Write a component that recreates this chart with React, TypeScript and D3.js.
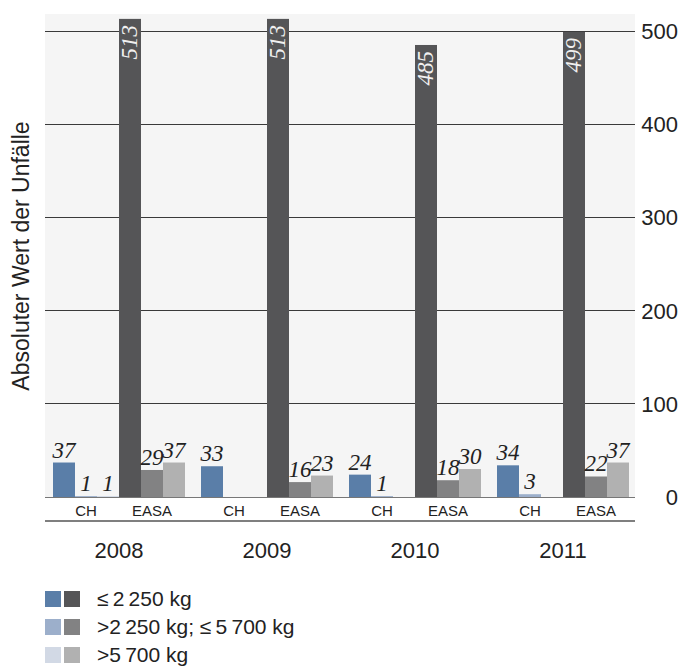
import React from "react";
import * as d3 from "d3";

const years = ["2008", "2009", "2010", "2011"];
const groups = ["CH", "EASA"];
const classes = ["≤\u20092\u2009250 kg", ">2\u2009250 kg; ≤\u20095\u2009700 kg", ">5\u2009700 kg"];
const chValues: (number | null)[][] = [
  [37, 1, 1],
  [33, null, null],
  [24, 1, null],
  [34, 3, null],
];
const easaValues: (number | null)[][] = [
  [513, 29, 37],
  [513, 16, 23],
  [485, 18, 30],
  [499, 22, 37],
];
const yTicks = [0, 100, 200, 300, 400, 500];
const chColors = ["#5a7ea8", "#9cafcb", "#d2d9e5"];
const easaColors = ["#555557", "#828283", "#b1b1b1"];

const W = 698;
const H = 668;
const left = 45;
const right = 635;
const top = 14;
const zeroY = 497;
const sans = "'Liberation Sans', Arial, Helvetica, sans-serif";
const serif = "'Liberation Serif', 'Times New Roman', serif";

export default function App() {
  const y = d3.scaleLinear().domain([0, 500]).range([zeroY, 31]);
  const x = d3
    .scaleBand<string>()
    .domain(years)
    .range([left, right + 2])
    .paddingInner(16 / 148)
    .paddingOuter(8 / 148);
  const keys = ["CH-0", "CH-1", "CH-2", "EASA-0", "EASA-1", "EASA-2"];
  const xs = d3.scaleBand<string>().domain(keys).range([0, x.bandwidth()]);
  const xg = d3.scaleBand<string>().domain(groups).range([0, x.bandwidth()]);

  const bars: any[] = [];
  years.forEach((yr, i) => {
    [chValues[i], easaValues[i]].forEach((vals, gi) => {
      vals.forEach((v, k) => {
        if (v == null) return;
        const key = `${groups[gi]}-${k}`;
        bars.push({
          yr,
          key,
          v,
          x: (x(yr) as number) + (xs(key) as number),
          color: gi === 0 ? chColors[k] : easaColors[k],
        });
      });
    });
  });

  return (
    <svg width={W} height={H} style={{ position: "absolute", left: 0, top: 0, background: "#fff" }}>
      <rect x={left} y={top} width={right - left} height={zeroY - top} fill="#f5f5f5" />
      {yTicks.map((t) => (
        <g key={t}>
          {t > 0 && (
            <line x1={left} x2={right} y1={y(t)} y2={y(t)} stroke="#3a3a3a" strokeWidth={1} shapeRendering="crispEdges" />
          )}
          <text
            x={678}
            y={y(t) + 8}
            textAnchor="end"
            fontFamily={sans}
            fontSize={22}
            fill="#222"
          >
            {t}
          </text>
        </g>
      ))}
      {bars.map((b, i) => (
        <rect
          key={i}
          x={b.x}
          y={y(b.v)}
          width={xs.bandwidth()}
          height={Math.max(zeroY - y(b.v), 1.5)}
          fill={b.color}
        />
      ))}
      {bars.map((b, i) => {
        const cx = b.x + xs.bandwidth() / 2;
        if (b.v > 300) {
          return (
            <text
              key={"l" + i}
              transform={`translate(${cx + 7},${y(b.v) + 6}) rotate(-90)`}
              textAnchor="end"
              fontFamily={serif}
              fontStyle="italic"
              fontSize={23}
              fill="#f0f0f0"
            >
              {b.v}
            </text>
          );
        }
        return (
          <text
            key={"l" + i}
            x={cx}
            y={y(b.v) - 5}
            textAnchor="middle"
            fontFamily={serif}
            fontStyle="italic"
            fontSize={23}
            fill="#222"
          >
            {b.v}
          </text>
        );
      })}
      <line x1={left} x2={right} y1={zeroY} y2={zeroY} stroke="#777" strokeWidth={1} shapeRendering="crispEdges" />
      <line x1={left} x2={right} y1={521} y2={521} stroke="#555" strokeWidth={1.5} />
      {years.map((yr) => (
        <g key={yr}>
          {groups.map((g) => (
            <text
              key={g}
              x={(x(yr) as number) + (xg(g) as number) + xg.bandwidth() / 2}
              y={516}
              textAnchor="middle"
              fontFamily={sans}
              fontSize={15}
              fill="#222"
            >
              {g}
            </text>
          ))}
          <text
            x={(x(yr) as number) + x.bandwidth() / 2}
            y={558}
            textAnchor="middle"
            fontFamily={sans}
            fontSize={22}
            fill="#222"
          >
            {yr}
          </text>
        </g>
      ))}
      <text
        transform={`translate(29,256) rotate(-90)`}
        textAnchor="middle"
        fontFamily={sans}
        fontSize={23}
        fill="#222"
      >
        Absoluter Wert der Unfälle
      </text>
      {classes.map((c, i) => (
        <g key={c} transform={`translate(0,${591 + i * 28})`}>
          <rect x={45} y={0} width={16} height={16} fill={chColors[i]} />
          <rect x={64} y={0} width={16} height={16} fill={easaColors[i]} />
          <text x={97} y={15} fontFamily={sans} fontSize={21} fill="#222">
            {c}
          </text>
        </g>
      ))}
    </svg>
  );
}
